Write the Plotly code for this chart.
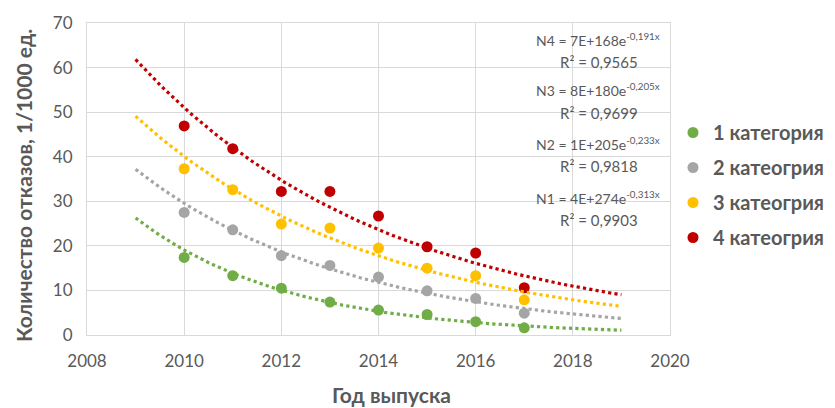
import numpy as np
import plotly.graph_objects as go

years = [2010, 2011, 2012, 2013, 2014, 2015, 2016, 2017]
cat1 = [17.4, 13.3, 10.5, 7.4, 5.6, 4.6, 3.0, 1.6]
cat2 = [27.5, 23.6, 17.8, 15.6, 13.0, 9.9, 8.2, 4.9]
cat3 = [37.3, 32.6, 24.9, 24.0, 19.5, 15.0, 13.3, 7.9]
cat4 = [46.9, 41.8, 32.2, 32.2, 26.7, 19.8, 18.4, 10.6]
names = ["1 категория", "2 катеогрия", "3 катеогрия", "4 катеогрия"]
colors = ["#70AD47", "#A5A5A5", "#FFC000", "#C00000"]
equations = [
    ("N1 = 4E+274e<sup>-0,313x</sup>", "R² = 0,9903"),
    ("N2 = 1E+205e<sup>-0,233x</sup>", "R² = 0,9818"),
    ("N3 = 8E+180e<sup>-0,205x</sup>", "R² = 0,9699"),
    ("N4 = 7E+168e<sup>-0,191x</sup>", "R² = 0,9565"),
]
x_title = "Год выпуска"
y_title = "Количество отказов, 1/1000 ед."
trend_start, trend_end = 2009, 2019

series = [cat1, cat2, cat3, cat4]
FONT = "Lato"
TXT = "#595959"

fig = go.Figure()
for name, col, vals in zip(names, colors, series):
    fig.add_trace(go.Scatter(
        x=years, y=vals, mode="markers", name=name,
        marker=dict(color=col, size=11), legendgroup=name,
    ))
# exponential trendlines fitted to the data
for name, col, vals in zip(names, colors, series):
    b, ln_a = np.polyfit(np.array(years, float), np.log(vals), 1)
    xt = np.linspace(trend_start, trend_end, 120)
    yt = np.exp(ln_a + b * xt)
    fig.add_trace(go.Scatter(
        x=xt, y=yt, mode="lines", showlegend=False, hoverinfo="skip",
        line=dict(color=col, width=3.2, dash="dot"),
    ))

L, R, T, B = 87, 165, 23, 73
W, H = 835, 408
pw, ph = W - L - R, H - T - B

def px(x):
    return (x - L) / pw

def py(y):
    return (H - B - y) / ph

eq_y = [(197, 220), (143, 166), (89, 113), (39, 62)]
for (eq, r2), (y1, y2) in zip(equations, eq_y):
    fig.add_annotation(x=px(598), y=py(y1), xref="paper", yref="paper",
                       text=eq, showarrow=False, xanchor="center", yanchor="middle",
                       font=dict(family=FONT, size=14, color=TXT))
    fig.add_annotation(x=px(599), y=py(y2), xref="paper", yref="paper",
                       text=r2, showarrow=False, xanchor="center", yanchor="middle",
                       font=dict(family=FONT, size=15, color=TXT))

fig.add_annotation(x=px(391), y=py(394), xref="paper", yref="paper", text=x_title,
                   showarrow=False, xanchor="center", yanchor="middle",
                   font=dict(family=FONT, size=21, color=TXT, weight="bold"))
fig.add_annotation(x=px(24), y=py(186), xref="paper", yref="paper", text=y_title,
                   showarrow=False, xanchor="center", yanchor="middle", textangle=-90,
                   font=dict(family=FONT, size=21, color=TXT, weight="bold"))

fig.update_layout(
    width=W, height=H,
    margin=dict(l=L, r=R, t=T, b=B, autoexpand=False),
    paper_bgcolor="white", plot_bgcolor="white",
    font=dict(family=FONT, color=TXT),
    showlegend=True,
    legend=dict(x=px(673), y=py(113), xanchor="left", yanchor="top",
                font=dict(family=FONT, size=20, color=TXT, weight="bold"),
                tracegroupgap=6, itemwidth=30, bgcolor="rgba(0,0,0,0)"),
)
fig.update_xaxes(
    range=[2008, 2020], dtick=2, tick0=2008, showgrid=True, gridcolor="#D9D9D9",
    gridwidth=1, showline=True, linecolor="#D9D9D9", mirror=True, zeroline=False,
    ticks="outside", ticklen=11, tickcolor="rgba(0,0,0,0)", automargin=False,
    tickfont=dict(family=FONT, size=17, color=TXT),
)
fig.update_yaxes(
    range=[0, 70], dtick=10, showgrid=True, gridcolor="#D9D9D9", gridwidth=1,
    showline=True, linecolor="#D9D9D9", mirror=True, zeroline=False,
    ticks="outside", ticklen=10, tickcolor="rgba(0,0,0,0)", automargin=False,
    tickfont=dict(family=FONT, size=17, color=TXT),
)
fig.write_html("out.html", config={"displayModeBar": False},
               post_script="document.body.style.margin='0';document.body.style.padding='0';")
